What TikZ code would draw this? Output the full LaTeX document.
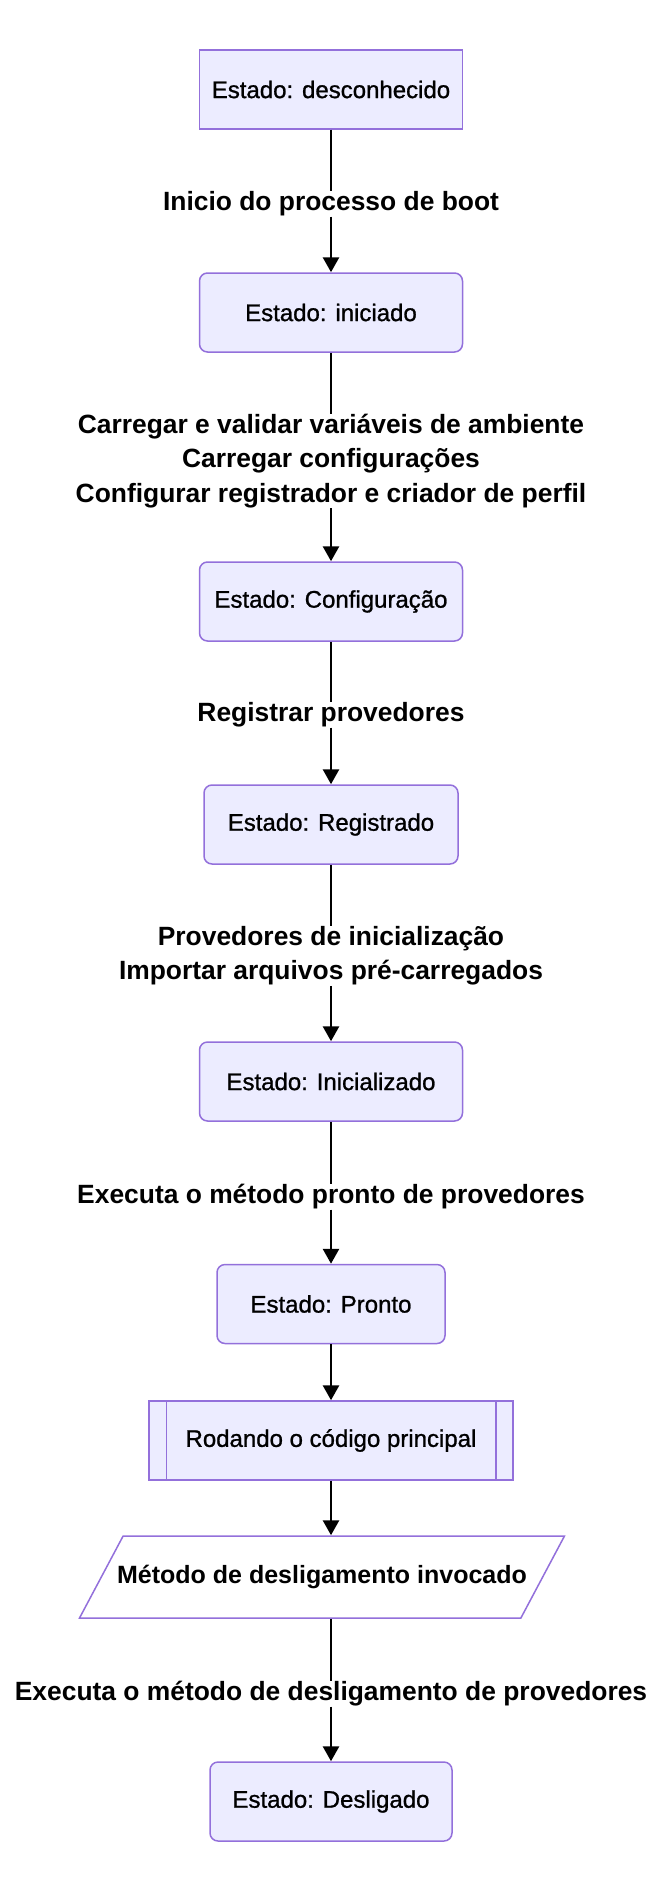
\documentclass[tikz,border=0pt]{standalone}
\usepackage{fontspec}
\setmainfont{Liberation Sans}
\newfontfamily\medio{Liberation Sans}[RawFeature={embolden=1}]
\usetikzlibrary{arrows.meta}
\usetikzlibrary{shapes.geometric}

\definecolor{boxfill}{HTML}{ECECFF}
\definecolor{boxline}{HTML}{9370DB}

\tikzset{
  estado/.style={draw=boxline, fill=boxfill, line width=1.5pt, rounded corners=8pt,
    minimum height=79pt, inner sep=0pt, font=\medio\fontsize{24}{28}\selectfont},
  entrada/.style={trapezium, trapezium left angle=62, trapezium right angle=118,
    draw=boxline, fill=white, line width=1.5pt, text height=18pt, text depth=5pt,
    inner ysep=29.5pt, inner xsep=-6pt, font=\bfseries\fontsize{25}{30}\selectfont},
  rotulo/.style={inner sep=0pt, align=center, font=\bfseries\fontsize{26.4}{34.4}\selectfont},
  linha/.style={black, line width=2.8pt},
  seta/.style={linha, -{Triangle[length=15pt,width=16pt]}},
}

\begin{document}
\begin{tikzpicture}[x=1pt, y=-1pt]
            \useasboundingbox (0,0) rectangle (662,1892);
            \node[estado, rounded corners=0pt, minimum width=263pt] (desc) at (331,89.5) {Estado: desconhecido};
            \node[rotulo] (l1) at (331,204) {Inicio do processo de boot};
            \node[estado, minimum width=263pt] (inic) at (331,312.5) {Estado: iniciado};
            \node[rotulo] (l2) at (331,461) {Carregar e validar variáveis de ambiente\\Carregar configurações\\Configurar registrador e criador de perfil};
            \node[estado, minimum width=263pt] (conf) at (331,601.5) {Estado: Configuração};
            \node[rotulo] (l3) at (331,715) {Registrar provedores};
            \node[estado, minimum width=254pt] (regi) at (331,824.5) {Estado: Registrado};
            \node[rotulo] (l4) at (331,956) {Provedores de inicialização\\Importar arquivos pré-carregados};
            \node[estado, minimum width=263pt] (inicz) at (331,1081.5) {Estado: Inicializado};
            \node[rotulo] (l5) at (331,1197) {Executa o método pronto de provedores};
            \node[estado, minimum width=228pt] (pronto) at (331,1304) {Estado: Pronto};
            \node[estado, rounded corners=0pt, minimum width=364pt] (roda) at (331,1440.5) {Rodando o código principal};
            \node[entrada] (metodo) at (322,1577) {Método de desligamento invocado};
            \node[rotulo] (l6) at (331,1694) {Executa o método de desligamento de provedores};
            \node[estado, minimum width=242pt] (desl) at (331,1801.5) {Estado: Desligado};

            % barras da sub-rotina
            \draw[boxline, line width=1.5pt] ([xshift=18pt]roda.north west) -- ([xshift=18pt]roda.south west);
            \draw[boxline, line width=1.5pt] ([xshift=-18pt]roda.north east) -- ([xshift=-18pt]roda.south east);

            \draw[linha] (desc) -- (l1);
            \draw[seta] (l1) -- (inic);
            \draw[linha] (inic) -- (l2);
            \draw[seta] (l2) -- (conf);
            \draw[linha] (conf) -- (l3);
            \draw[seta] (l3) -- (regi);
            \draw[linha] (regi) -- (l4);
            \draw[seta] (l4) -- (inicz);
            \draw[linha] (inicz) -- (l5);
            \draw[seta] (l5) -- (pronto);
            \draw[seta] (pronto) -- (roda);
            \draw[seta] (roda.south) -- (roda.south |- metodo.north);
            \draw[linha] (l6.north |- metodo.south) -- (l6);
            \draw[seta] (l6) -- (desl);
        \end{tikzpicture}
\end{document}
